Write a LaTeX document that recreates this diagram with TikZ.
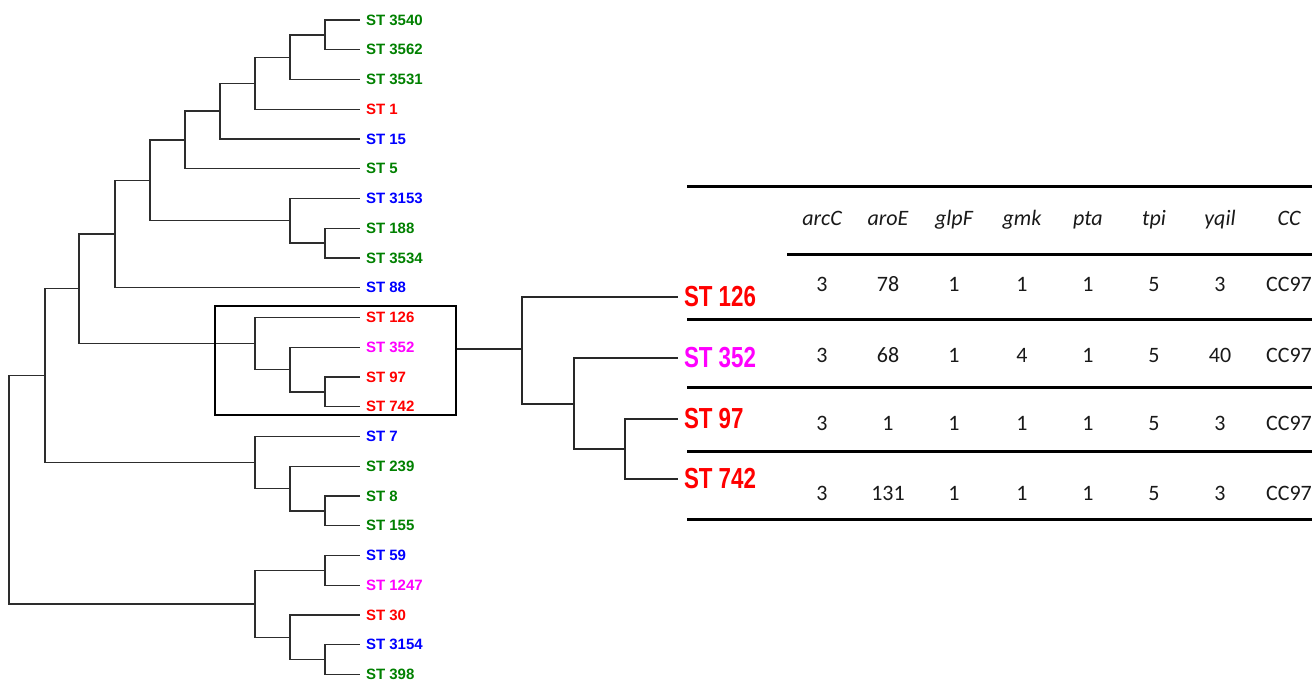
\documentclass[tikz,border=0pt]{standalone}
\usepackage{fontspec}
\setmainfont{Liberation Sans}
\newfontfamily\biglab{Liberation Sans}[FakeStretch=0.77]
\newfontfamily\tabfont{Carlito}
\usetikzlibrary{calc}
\definecolor{stgreen}{RGB}{0,128,0}
\definecolor{stblue}{RGB}{0,0,255}
\definecolor{stred}{RGB}{255,0,0}
\definecolor{stmag}{RGB}{255,0,255}
\definecolor{treeline}{RGB}{45,45,45}
\definecolor{zoomline}{RGB}{40,40,40}
\definecolor{tabtext}{RGB}{25,25,25}
\tikzset{
  lab/.style={anchor=west,inner sep=0pt,outer xsep=6pt,font=\bfseries\fontsize{15}{18}\selectfont},
  biglabel/.style={anchor=west,inner sep=0pt,outer xsep=6pt,font=\biglab\bfseries\fontsize{29}{32}\selectfont},
  br/.style={draw=treeline,line width=1.3pt},
  br2/.style={draw=zoomline,line width=2pt},
  boxst/.style={draw=black,line width=2.6pt,minimum width=241pt,minimum height=109pt,inner sep=0pt},
  rule/.style={draw=black,line width=3pt},
  hd/.style={anchor=base,inner sep=0pt,text=tabtext,font=\tabfont\itshape\fontsize{22}{24}\selectfont},
  val/.style={anchor=base,inner sep=0pt,text=tabtext,font=\tabfont\fontsize{22}{24}\selectfont}
}
\begin{document}
\begin{tikzpicture}[x=1pt,y=-1pt]
\useasboundingbox (0,0) rectangle (1312,681);
% leaves
\foreach \i/\t/\c in {0/3540/stgreen,1/3562/stgreen,2/3531/stgreen,3/1/stred,4/15/stblue,5/5/stgreen,6/3153/stblue,7/188/stgreen,8/3534/stgreen,9/88/stblue,10/126/stred,11/352/stmag,12/97/stred,13/742/stred,14/7/stblue,15/239/stgreen,16/8/stgreen,17/155/stgreen,18/59/stblue,19/1247/stmag,20/30/stred,21/3154/stblue,22/398/stgreen}
  \node[lab,text=\c] (l\i) at (360,{20+29.75*\i}) {ST \t};
% internal nodes
\coordinate (A) at (325,34.9);
\coordinate (B) at (290,57.2);
\coordinate (C) at (255,83.2);
\coordinate (D) at (220,111.1);
\coordinate (E) at (185,139.9);
\coordinate (F) at (325,243.1);
\coordinate (G) at (290,220.8);
\coordinate (H) at (150,180.4);
\coordinate (I) at (115,234.1);
\coordinate (J) at (325,391.9);
\coordinate (K) at (290,369.6);
\coordinate (L) at (255,343.5);
\coordinate (M) at (79,288.8);
\coordinate (O) at (325,510.9);
\coordinate (P) at (290,488.6);
\coordinate (Q) at (255,462.5);
\coordinate (R) at (45,375.7);
\coordinate (S) at (325,570.4);
\coordinate (T) at (325,659.6);
\coordinate (U) at (290,637.3);
\coordinate (V) at (255,603.9);
\coordinate (root) at (9,489.8);
% branches
\path[br] (A) |- (l0.west) (A) |- (l1.west)
  (B) |- (A) (B) |- (l2.west)
  (C) |- (B) (C) |- (l3.west)
  (D) |- (C) (D) |- (l4.west)
  (E) |- (D) (E) |- (l5.west)
  (F) |- (l7.west) (F) |- (l8.west)
  (G) |- (l6.west) (G) |- (F)
  (H) |- (E) (H) |- (G)
  (I) |- (H) (I) |- (l9.west)
  (J) |- (l12.west) (J) |- (l13.west)
  (K) |- (l11.west) (K) |- (J)
  (L) |- (l10.west) (L) |- (K)
  (M) |- (I) (M) |- (L)
  (O) |- (l16.west) (O) |- (l17.west)
  (P) |- (l15.west) (P) |- (O)
  (Q) |- (l14.west) (Q) |- (P)
  (R) |- (M) (R) |- (Q)
  (S) |- (l18.west) (S) |- (l19.west)
  (T) |- (l21.west) (T) |- (l22.west)
  (U) |- (l20.west) (U) |- (T)
  (V) |- (S) (V) |- (U)
  (root) |- (R) (root) |- (V);
% highlight box
\node[boxst] (box) at (335.5,360.5) {};
% enlarged clade
\node[biglabel,text=stred] (b126) at (678,297) {ST 126};
\node[biglabel,text=stmag] (b352) at (678,358) {ST 352};
\node[biglabel,text=stred] (b97) at (678,419) {ST 97};
\node[biglabel,text=stred] (b742) at (678,479) {ST 742};
\coordinate (Z) at (522,349);
\coordinate (Y) at (574,404);
\coordinate (X) at (625,449);
\path[br2] (box.east |- Z) -- (Z)
  (Z) |- (b126.west) (Z) |- (Y)
  (Y) |- (b352.west) (Y) |- (X)
  (X) |- (b97.west) (X) |- (b742.west);
% table rules
\path[rule] (687,186) -- (1312,186);
\path[rule] (787,254) -- (1312,254);
\path[rule] (687,319) -- (1312,319);
\path[rule] (687,387) -- (1312,387);
\path[rule] (687,451) -- (1312,451);
\path[rule] (687,519) -- (1312,519);
% header
\foreach \x/\h [count=\k] in {822/arcC,888/aroE,954/glpF,1022/gmk,1088/pta,1154/tpi,1220/yqil,1289/CC}
  \node[hd] (h\k) at (\x,225) {\h};
% values
\foreach \r/\y/\vals in {1/291/{3,78,1,1,1,5,3,CC97},2/362/{3,68,1,4,1,5,40,CC97},3/430/{3,1,1,1,1,5,3,CC97},4/500/{3,131,1,1,1,5,3,CC97}}{
  \foreach \v [count=\k] in \vals {
    \pgfmathsetmacro{\xx}{{822,888,954,1022,1088,1154,1220,1289}[\k-1]}
    \node[val] (v\r-\k) at (\xx,\y) {\v};
  }
}
\end{tikzpicture}
\end{document}
